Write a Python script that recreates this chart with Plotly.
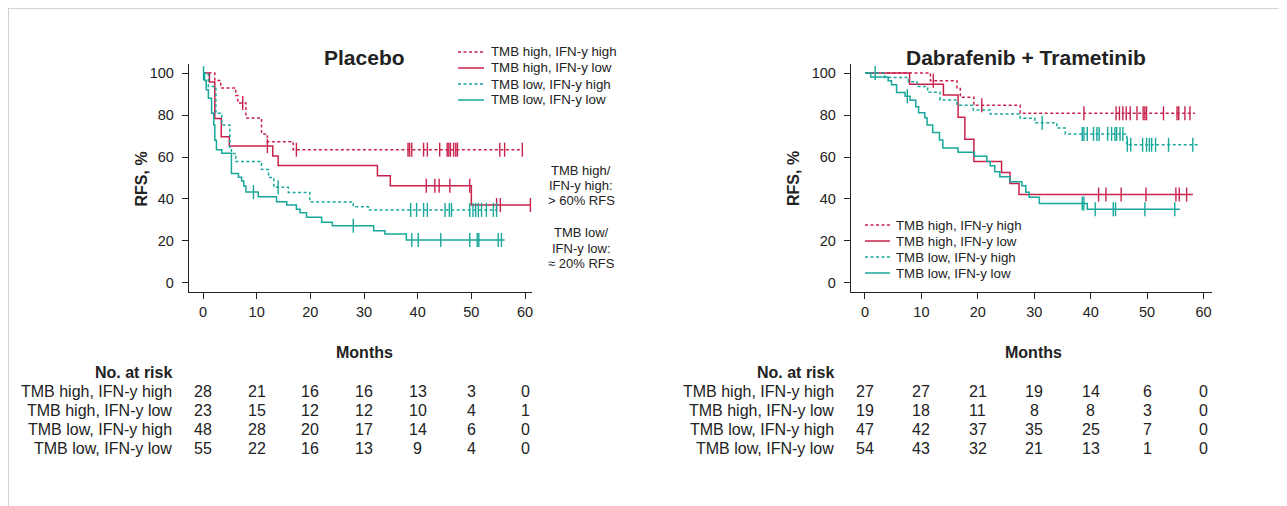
import plotly.graph_objects as go

# page offset of the plot div (body margin) is 8px; reference pixel coords are converted below
OFF = 8
W, H = 1287 - OFF, 506 - OFF
RED = "#C8224C"
TEAL = "#17A89B"
FONT = "Arial, Liberation Sans, sans-serif"
INK = "#222"

names = ["TMB high, IFN-y high", "TMB high, IFN-y low", "TMB low, IFN-y high", "TMB low, IFN-y low"]

# ---------------- Placebo ----------------
pl_hh_t = [0, 2.2, 3.3, 6.1, 6.5, 8.0, 10.9, 12.0, 16.8, 59.5]
pl_hh_v = [100, 96.4, 92.9, 89.3, 85.7, 78.6, 71.0, 67.3, 63.5, 63.5]
pl_hh_c = [7.4, 17.4, 38.2, 38.5, 38.9, 41.1, 41.8, 44.1, 45.5, 45.8, 46.1, 46.7, 47.1, 47.4, 55.3, 56.2, 59.5]

pl_hl_t = [0, 1.2, 2.2, 3.4, 4.9, 13.0, 14.0, 32.5, 34.9, 50.0, 61.0]
pl_hl_v = [100, 95.7, 78.3, 69.6, 65.2, 60.5, 55.9, 51.1, 46.3, 37.1, 37.1]
pl_hl_c = [12.0, 41.6, 43.2, 44.0, 46.0, 49.7, 54.7, 55.4, 61.0]

pl_lh_t = [0, 1.0, 2.4, 3.5, 5.0, 5.3, 6.1, 10.9, 12.2, 13.2, 15.9, 19.9, 28.0, 30.8, 54.7]
pl_lh_v = [100, 93.6, 80.8, 75.2, 64.6, 61.7, 57.8, 54.0, 50.2, 45.6, 43.1, 38.6, 36.3, 34.8, 34.8]
pl_lh_c = [14.0, 38.7, 39.8, 41.1, 41.8, 45.1, 45.9, 46.3, 49.7, 50.3, 50.8, 51.3, 51.9, 52.8, 54.1, 54.7]

pl_ll_t = [0, 0.3, 0.6, 1.0, 1.6, 2.0, 2.2, 2.5, 3.5, 5.3, 6.6, 7.2, 7.6, 8.0, 10.3, 13.7, 15.6, 17.4,
           18.1, 19.3, 22.1, 24.1, 31.8, 33.9, 37.9, 56.2]
pl_ll_v = [100, 96.4, 92.0, 88.0, 80.8, 75.2, 68.0, 63.5, 61.8, 52.2, 50.4, 48.6, 46.2, 43.3, 41.1, 38.7,
           37.1, 35.1, 33.5, 31.3, 28.9, 27.3, 24.9, 23.3, 20.5, 20.5]
pl_ll_c = [0.1, 9.4, 28.0, 38.9, 40.1, 44.3, 49.7, 51.1, 51.4, 55.0, 55.6]

# ---------------- Dabrafenib + Trametinib ----------------
dt_hh_t = [0, 11.6, 16.3, 16.9, 19.3, 27.5, 58.5]
dt_hh_v = [100, 96.3, 92.6, 88.5, 84.6, 80.8, 80.8]
dt_hh_c = [12.1, 20.7, 38.8, 44.5, 45.1, 45.7, 46.3, 47.0, 48.2, 49.3, 49.6, 49.9, 52.9, 55.3, 55.6, 56.7, 57.6]

dt_hl_t = [0, 7.9, 13.9, 16.5, 17.7, 19.3, 24.2, 25.7, 27.3, 58.1]
dt_hl_v = [100, 94.7, 89.5, 78.9, 68.4, 57.9, 52.6, 47.4, 42.1, 42.1]
dt_hl_c = [41.4, 42.7, 45.4, 49.8, 55.1, 55.7, 57.0]

dt_lh_t = [0, 3.5, 7.7, 9.2, 11.1, 13.3, 16.3, 19.2, 22.2, 27.5, 30.1, 34.0, 35.5, 46.4, 59.1]
dt_lh_v = [100, 97.9, 95.8, 93.6, 90.9, 87.2, 84.6, 82.4, 80.5, 78.5, 76.3, 73.8, 71.0, 65.8, 65.8]
dt_lh_c = [1.8, 31.4, 38.5, 38.8, 39.4, 40.5, 41.1, 41.5, 43.0, 43.7, 44.3, 44.6, 45.2, 45.7,
           46.5, 47.1, 49.2, 49.9, 50.4, 50.8, 51.5, 53.8, 58.1]

dt_ll_t = [0, 1.0, 4.1, 4.7, 5.6, 7.1, 8.0, 9.0, 9.5, 10.6, 11.0, 12.0, 13.2, 13.8, 16.5, 19.4, 21.6,
           22.2, 23.0, 23.9, 25.7, 27.8, 28.5, 29.1, 30.9, 39.4, 55.8]
dt_ll_v = [100, 98.1, 96.3, 94.4, 90.7, 88.9, 87.0, 83.9, 81.1, 78.7, 75.3, 71.7, 68.1, 64.3, 62.3,
           60.4, 57.9, 55.8, 53.0, 50.6, 48.2, 46.3, 43.2, 40.8, 37.9, 35.1, 35.1]
dt_ll_c = [7.5, 38.5, 38.8, 40.8, 44.0, 44.4, 49.6, 54.9]

# ---------------- Number at risk ----------------
risk_months = [0, 10, 20, 30, 40, 50, 60]
pl_risk = [[28, 21, 16, 16, 13, 3, 0],
           [23, 15, 12, 12, 10, 4, 1],
           [48, 28, 20, 17, 14, 6, 0],
           [55, 22, 16, 13, 9, 4, 0]]
dt_risk = [[27, 27, 21, 19, 14, 6, 0],
           [19, 18, 11, 8, 8, 3, 0],
           [47, 42, 37, 35, 25, 7, 0],
           [54, 43, 32, 21, 13, 1, 0]]

x_ticks = [0, 10, 20, 30, 40, 50, 60]
y_ticks = [0, 20, 40, 60, 80, 100]

DASH = "3px,2.5px"
styles = [(RED, DASH), (RED, "solid"), (TEAL, DASH), (TEAL, "solid")]


def px(xp):
    return (xp - OFF) / W


def py(yp):
    return 1 - (yp - OFF) / H


fig = go.Figure()


def add_panel(curves, xa, ya):
    for (t, v, c), name, (col, dash) in zip(curves, names, styles):
        fig.add_trace(go.Scatter(x=t, y=v, mode="lines", line=dict(color=col, width=1.5, dash=dash, shape="hv"),
                                 name=name, xaxis=xa, yaxis=ya, showlegend=False, hoverinfo="skip"))
    for (t, v, c), name, (col, dash) in zip(curves, names, styles):
        cy = []
        for ci in c:
            val = v[0]
            for ti, vi in zip(t, v):
                if ti <= ci:
                    val = vi
            cy.append(val)
        fig.add_trace(go.Scatter(x=c, y=cy, mode="markers",
                                 marker=dict(symbol="line-ns-open", size=10, color=col,
                                             line=dict(color=col, width=1.4)),
                                 showlegend=False, xaxis=xa, yaxis=ya, hoverinfo="skip"))


add_panel([(pl_hh_t, pl_hh_v, pl_hh_c), (pl_hl_t, pl_hl_v, pl_hl_c),
           (pl_lh_t, pl_lh_v, pl_lh_c), (pl_ll_t, pl_ll_v, pl_ll_c)], "x", "y")
add_panel([(dt_hh_t, dt_hh_v, dt_hh_c), (dt_hl_t, dt_hl_v, dt_hl_c),
           (dt_lh_t, dt_lh_v, dt_lh_c), (dt_ll_t, dt_ll_v, dt_ll_c)], "x2", "y2")

ydom = [py(292), py(64)]
axis_common = dict(showline=True, linecolor=INK, linewidth=1.3, ticks="outside", ticklen=6,
                   tickwidth=1.3, tickcolor=INK, showgrid=False, zeroline=False,
                   tickfont=dict(family=FONT, size=14.5, color=INK))

fig.update_layout(
    width=W, height=H, margin=dict(l=0, r=0, t=0, b=0),
    paper_bgcolor="white", plot_bgcolor="white",
    font=dict(family=FONT, color=INK),
    xaxis=dict(domain=[px(189), px(532)], range=[-2.61, 61.3], tickvals=x_ticks, anchor="y", **axis_common),
    yaxis=dict(domain=ydom, range=[-4.3, 104.3], tickvals=y_ticks, anchor="x", ticklabelstandoff=5,
               **axis_common),
    xaxis2=dict(domain=[px(851), px(1212)], range=[-2.48, 61.5], tickvals=x_ticks, anchor="y2", **axis_common),
    yaxis2=dict(domain=ydom, range=[-4.3, 104.3], tickvals=y_ticks, anchor="x2", ticklabelstandoff=5,
                **axis_common),
    showlegend=False,
)

ann = []
shapes = []


def text(x, y, s, size=16, bold=False, xanchor="center", xref="paper"):
    ann.append(dict(x=x, y=y, xref=xref, yref="paper", text=f"<b>{s}</b>" if bold else s,
                    showarrow=False, xanchor=xanchor, yanchor="middle",
                    font=dict(family=FONT, size=size, color=INK)))


# titles
text(px(364), py(57), "Placebo", size=21, bold=True)
text(px(1026), py(57), "Dabrafenib + Trametinib", size=21, bold=True)
text(px(364), py(352), "Months", size=16, bold=True)
text(px(1033), py(352), "Months", size=16, bold=True)
for xp in (130, 793):
    ann.append(dict(x=px(xp), y=py(179), xref="paper", yref="paper", text="<b>RFS, %</b>", textangle=-90,
                    showarrow=False, font=dict(family=FONT, size=16, color=INK)))

# side notes
for s, yp in (("TMB high/", 170), ("IFN-y high:", 185), ("&gt; 60% RFS", 200),
              ("TMB low/", 232), ("IFN-y low:", 248), ("≈ 20% RFS", 264)):
    text(px(581), py(yp), s, size=13)

# manual legends (16px row pitch as in the reference)
for (lx0, lx1, tx, rows) in ((458, 484, 489, [52, 68, 84, 100]), (865, 890, 894, [225, 241, 257, 273])):
    for name, (col, dash), ry in zip(names, styles, rows):
        shapes.append(dict(type="line", xref="paper", yref="paper", x0=px(lx0), x1=px(lx1),
                           y0=py(ry), y1=py(ry), line=dict(color=col, width=1.5, dash=dash)))
        text(px(tx), py(ry), name, size=13.3, xanchor="left")

# at-risk tables
row_y = [391, 410, 429, 448]
for label_x, xref, table in ((174, "x", pl_risk), (836, "x2", dt_risk)):
    text(px(label_x), py(372), "No. at risk", bold=True, xanchor="right")
    for ry, name, vals in zip(row_y, names, table):
        text(px(label_x), py(ry), name, xanchor="right")
        for m, v in zip(risk_months, vals):
            text(m, py(ry), str(v), xref=xref)

# page frame lines
shapes.append(dict(type="line", xref="paper", yref="paper", x0=0, x1=1, y0=1, y1=1,
                   line=dict(color="#c4c4c4", width=1.5)))
shapes.append(dict(type="line", xref="paper", yref="paper", x0=0, x1=0, y0=0, y1=1,
                   line=dict(color="#c4c4c4", width=1.5)))

fig.update_layout(annotations=ann, shapes=shapes)

fig.write_html("out.html")
